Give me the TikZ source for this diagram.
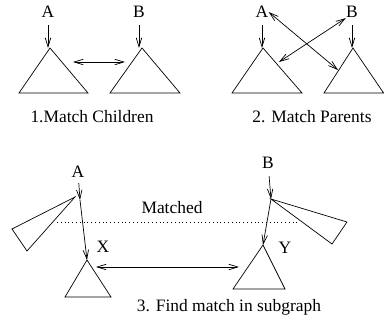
\documentclass[tikz,border=0pt]{standalone}
\usepackage{fontspec}
\setmainfont{Liberation Serif}
\usetikzlibrary{arrows.meta}

\begin{document}
\begin{tikzpicture}[x=1bp, y=-1bp, line width=0.7bp,
    every node/.style={font=\fontsize{17.5}{20}\selectfont, inner sep=0pt},
    tip/.style={-{Straight Barb[length=9bp,width=5.5bp]}},
    twotip/.style={{Straight Barb[length=9bp,width=5.5bp]}-{Straight Barb[length=9bp,width=5.5bp]}},
    matchline/.style={dash pattern=on 0.8bp off 3bp}]
    \useasboundingbox (0, 0) rectangle (384, 320);
    % 1. match children
    \node (a1) at (48, 12) {A};
    \node (b1) at (139, 12) {B};
    \coordinate (ta1) at (50, 48);
    \coordinate (tb1) at (142, 48);
    \draw (ta1) -- (19, 93) -- (88, 93) -- cycle;
    \draw (tb1) -- (110, 93) -- (180, 93) -- cycle;
    \draw [tip, shorten <=7bp] (a1) -- (a1 |- ta1);
    \draw [tip, shorten <=7bp] (b1) -- (b1 |- tb1);
    \coordinate (c1) at (73, 62);
    \coordinate (c2) at (125, 62);
    \draw [twotip] (c1) -- (c2);
    \node (t1) at (92, 117) {1.Match Children};
    % 2. match parents
    \node (a2) at (262, 12) {A};
    \node (b2) at (352, 12) {B};
    \coordinate (ta2) at (263, 48);
    \coordinate (tb2) at (353, 48);
    \draw (ta2) -- (232, 93) -- (302, 93) -- cycle;
    \draw (tb2) -- (324, 93) -- (383.6, 93) -- cycle;
    \draw [tip, shorten <=7bp] (a2) -- (a2 |- ta2);
    \draw [tip, shorten <=7bp] (b2) -- (b2 |- tb2);
    \coordinate (e2) at (338, 70);
    \coordinate (e3) at (279, 62);
    \draw [twotip] (a2.east) -- (e2);
    \draw [twotip] (e3) -- (b2.south west);
    \node (t2) at (312, 117) {2. Match Parents};
    % 3. find match in subgraph
    \node (a3) at (78, 172) {A};
    \node (b3) at (268, 163) {B};
    \node (x3) at (103, 247) {X};
    \node (y3) at (285, 248) {Y};
    \coordinate (ra) at (80, 200);
    \coordinate (rb) at (271, 199);
    \coordinate (tx) at (87, 260);
    \coordinate (ty) at (263, 245);
    \draw (75, 197) -- (12, 229) -- (27, 251) -- cycle;
    \draw (rb) -- (347, 222) -- (332, 244) -- cycle;
    \draw (tx) -- (65, 297) -- (111, 297) -- cycle;
    \draw (ty) -- (233, 289) -- (285, 289) -- cycle;
    \draw [tip, shorten <=5bp] (a3) -- (ra);
    \draw [tip, shorten <=7bp] (b3) -- (rb);
    \draw [tip] (ra) -- (tx);
    \draw [tip] (rb) -- (ty);
    \coordinate (m1) at (57, 222);
    \coordinate (m2) at (300, 222);
    \draw [matchline] (m1) -- (m2);
    \node (mt) at (172, 208) {Matched};
    \coordinate (c3) at (96, 267);
    \coordinate (c4) at (239, 267);
    \draw [twotip] (c3) -- (c4);
    \node (t3) at (229, 307) {3. Find match in subgraph};
\end{tikzpicture}
\end{document}
